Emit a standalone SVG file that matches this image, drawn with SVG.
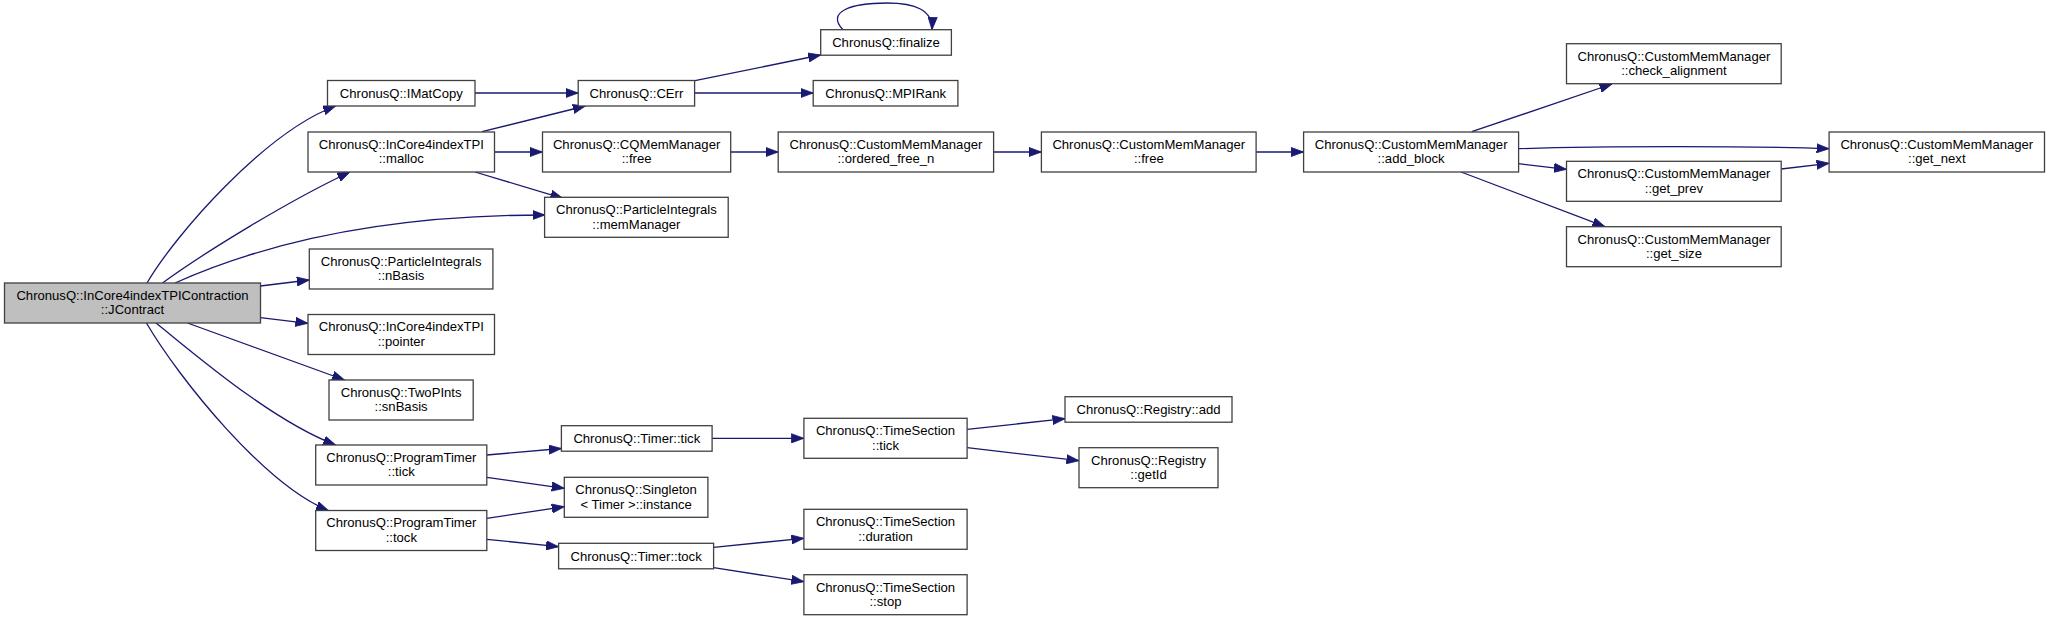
<svg xmlns="http://www.w3.org/2000/svg" width="2049" height="621" viewBox="0 0 2049 621">
<style>
.n rect{fill:#ffffff;stroke:#404040;stroke-width:1.3}
.n.hl rect{fill:#bfbfbf}
.n text{font-family:"Liberation Sans",Arial,Helvetica,sans-serif;font-size:13.1px;fill:#000;text-anchor:middle}
.e path{fill:none;stroke:#191970;stroke-width:1.3}
</style>
<defs>
<marker id="ah" markerUnits="userSpaceOnUse" markerWidth="13" markerHeight="10" viewBox="0 0 13 10" refX="12.5" refY="5" orient="auto">
<path d="M0,0.4 L12.5,5 L0,9.6 z" fill="#191970" stroke="#191970" stroke-width="0.8"/>
</marker>
</defs>
<rect width="2049" height="621" fill="#ffffff"/>
<g id="edges" class="e" marker-end="url(#ah)">
<path d="M147,283 C175,235 265,132 335.7,106" marker-end="url(#ah)"/>
<path d="M162.5,283 C205,252 290,200 350,172" marker-end="url(#ah)"/>
<path d="M175,283 C260,245 380,215 545,215" marker-end="url(#ah)"/>
<path d="M260.4,286 L309.3,280" marker-end="url(#ah)"/>
<path d="M260.4,317.7 L307.9,323.3" marker-end="url(#ah)"/>
<path d="M187.5,323 L344.6,380" marker-end="url(#ah)"/>
<path d="M156,323 C190,350 270,420 335.7,445" marker-end="url(#ah)"/>
<path d="M146.4,323 C180,380 265,485 328.6,510.7" marker-end="url(#ah)"/>
<path d="M475,93 L578.2,93" marker-end="url(#ah)"/>
<path d="M482,131.7 L585.4,106" marker-end="url(#ah)"/>
<path d="M494.6,152 L542.5,152" marker-end="url(#ah)"/>
<path d="M475,172 L562.9,198.3" marker-end="url(#ah)"/>
<path d="M695,80.7 L820.7,55" marker-end="url(#ah)"/>
<path d="M694.6,93 L813.2,93" marker-end="url(#ah)"/>
<path d="M843,29.7 C826,12 850,3 887,3 C915,3 933,10 932,29.7" marker-end="url(#ah)"/>
<path d="M730.7,152 L778.2,152" marker-end="url(#ah)"/>
<path d="M993.6,152 L1041.4,152" marker-end="url(#ah)"/>
<path d="M1256.1,152 L1303.6,152" marker-end="url(#ah)"/>
<path d="M1471.8,131.7 L1612,84" marker-end="url(#ah)"/>
<path d="M1518.6,148.7 C1600,146 1750,146 1829.1,148.7" marker-end="url(#ah)"/>
<path d="M1518.6,163.7 L1566.5,169.3" marker-end="url(#ah)"/>
<path d="M1461.1,172 L1605,226.7" marker-end="url(#ah)"/>
<path d="M1781.2,169 L1829.1,163.3" marker-end="url(#ah)"/>
<path d="M486.8,455 L561.4,448.5" marker-end="url(#ah)"/>
<path d="M486.8,477.3 L564.3,488.3" marker-end="url(#ah)"/>
<path d="M486.8,518.3 L564.3,506.7" marker-end="url(#ah)"/>
<path d="M486.8,539.3 L558.6,546.7" marker-end="url(#ah)"/>
<path d="M712.1,438.3 L803.9,438.3" marker-end="url(#ah)"/>
<path d="M713.6,547.3 L803.9,538.3" marker-end="url(#ah)"/>
<path d="M713.6,567.7 L803.9,581.7" marker-end="url(#ah)"/>
<path d="M967.1,429.3 L1065,418.7" marker-end="url(#ah)"/>
<path d="M967.1,447.7 L1079,460.7" marker-end="url(#ah)"/>
</g>
<g id="n0" class="n hl"><rect x="4.5" y="283" width="256" height="40"/><text x="132.5" y="299.8">ChronusQ::InCore4indexTPIContraction</text><text x="132.5" y="314.3">::JContract</text></g>
<g id="n1" class="n"><rect x="327.5" y="80.5" width="147.5" height="25.5"/><text x="401.3" y="97.8">ChronusQ::IMatCopy</text></g>
<g id="n2" class="n"><rect x="308" y="132" width="186.5" height="40"/><text x="401.3" y="148.8">ChronusQ::InCore4indexTPI</text><text x="401.3" y="163.3">::malloc</text></g>
<g id="n3" class="n"><rect x="544.6" y="197.3" width="183.6" height="40"/><text x="636.4" y="214.1">ChronusQ::ParticleIntegrals</text><text x="636.4" y="228.6">::memManager</text></g>
<g id="n4" class="n"><rect x="309.3" y="249" width="183.6" height="40"/><text x="401.1" y="265.8">ChronusQ::ParticleIntegrals</text><text x="401.1" y="280.3">::nBasis</text></g>
<g id="n5" class="n"><rect x="308" y="314.5" width="186.5" height="40"/><text x="401.3" y="331.3">ChronusQ::InCore4indexTPI</text><text x="401.3" y="345.8">::pointer</text></g>
<g id="n6" class="n"><rect x="329" y="380" width="144.2" height="40"/><text x="401.1" y="396.8">ChronusQ::TwoPInts</text><text x="401.1" y="411.3">::snBasis</text></g>
<g id="n7" class="n"><rect x="315.7" y="445" width="171.1" height="40"/><text x="401.3" y="461.8">ChronusQ::ProgramTimer</text><text x="401.3" y="476.3">::tick</text></g>
<g id="n8" class="n"><rect x="315.7" y="510.5" width="171.1" height="40"/><text x="401.3" y="527.3">ChronusQ::ProgramTimer</text><text x="401.3" y="541.8">::tock</text></g>
<g id="n9" class="n"><rect x="578.2" y="80.5" width="116.4" height="25.5"/><text x="636.4" y="97.8">ChronusQ::CErr</text></g>
<g id="n10" class="n"><rect x="542.5" y="132" width="188.2" height="40"/><text x="636.6" y="148.8">ChronusQ::CQMemManager</text><text x="636.6" y="163.3">::free</text></g>
<g id="n11" class="n"><rect x="561.4" y="425.7" width="150.7" height="25.5"/><text x="636.8" y="443">ChronusQ::Timer::tick</text></g>
<g id="n12" class="n"><rect x="564.3" y="477.3" width="143.6" height="40"/><text x="636.1" y="494.1">ChronusQ::Singleton</text><text x="636.1" y="508.6">&lt; Timer &gt;::instance</text></g>
<g id="n13" class="n"><rect x="558.6" y="543.3" width="155" height="25.5"/><text x="636.1" y="560.6">ChronusQ::Timer::tock</text></g>
<g id="n14" class="n"><rect x="820.7" y="29.7" width="130.7" height="25.5"/><text x="886" y="47">ChronusQ::finalize</text></g>
<g id="n15" class="n"><rect x="813.2" y="80.5" width="144.7" height="25.5"/><text x="885.6" y="97.8">ChronusQ::MPIRank</text></g>
<g id="n16" class="n"><rect x="778.2" y="132" width="215.4" height="40"/><text x="885.9" y="148.8">ChronusQ::CustomMemManager</text><text x="885.9" y="163.3">::ordered_free_n</text></g>
<g id="n17" class="n"><rect x="803.9" y="418.3" width="163.2" height="40"/><text x="885.5" y="435.1">ChronusQ::TimeSection</text><text x="885.5" y="449.6">::tick</text></g>
<g id="n18" class="n"><rect x="803.9" y="509.3" width="163.2" height="40"/><text x="885.5" y="526.1">ChronusQ::TimeSection</text><text x="885.5" y="540.6">::duration</text></g>
<g id="n19" class="n"><rect x="803.9" y="574.7" width="163.2" height="40"/><text x="885.5" y="591.5">ChronusQ::TimeSection</text><text x="885.5" y="606">::stop</text></g>
<g id="n20" class="n"><rect x="1041.4" y="132" width="214.7" height="40"/><text x="1148.8" y="148.8">ChronusQ::CustomMemManager</text><text x="1148.8" y="163.3">::free</text></g>
<g id="n21" class="n"><rect x="1065" y="396.7" width="167" height="25.5"/><text x="1148.5" y="414">ChronusQ::Registry::add</text></g>
<g id="n22" class="n"><rect x="1079" y="447.7" width="139" height="40"/><text x="1148.5" y="464.5">ChronusQ::Registry</text><text x="1148.5" y="479">::getId</text></g>
<g id="n23" class="n"><rect x="1303.6" y="132" width="215" height="40"/><text x="1411.1" y="148.8">ChronusQ::CustomMemManager</text><text x="1411.1" y="163.3">::add_block</text></g>
<g id="n24" class="n"><rect x="1566.5" y="43.7" width="214.7" height="40"/><text x="1673.9" y="60.5">ChronusQ::CustomMemManager</text><text x="1673.9" y="75">::check_alignment</text></g>
<g id="n25" class="n"><rect x="1566.5" y="161.3" width="214.7" height="40"/><text x="1673.9" y="178.1">ChronusQ::CustomMemManager</text><text x="1673.9" y="192.6">::get_prev</text></g>
<g id="n26" class="n"><rect x="1566.5" y="226.7" width="214.7" height="40"/><text x="1673.9" y="243.5">ChronusQ::CustomMemManager</text><text x="1673.9" y="258">::get_size</text></g>
<g id="n27" class="n"><rect x="1829.1" y="132" width="215.4" height="40"/><text x="1936.8" y="148.8">ChronusQ::CustomMemManager</text><text x="1936.8" y="163.3">::get_next</text></g>
</svg>
